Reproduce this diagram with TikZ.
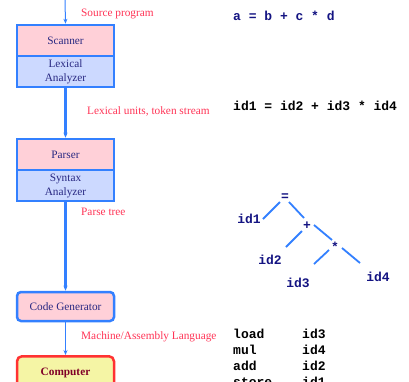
\documentclass[tikz,border=0pt]{standalone}
\usepackage{fontspec}
\setmainfont{Liberation Serif}
\setmonofont{Liberation Mono}
\usetikzlibrary{arrows.meta}
\definecolor{bblue}{RGB}{51,128,255}
\definecolor{pinkf}{RGB}{255,208,216}
\definecolor{bluef}{RGB}{204,217,255}
\definecolor{redt}{RGB}{255,51,85}
\definecolor{boxt}{RGB}{40,40,130}
\definecolor{navy}{RGB}{20,20,130}
\definecolor{yell}{RGB}{245,245,165}
\definecolor{redb}{RGB}{255,50,50}
\definecolor{darkred}{RGB}{128,0,40}
\tikzset{
  half/.style={draw=bblue, line width=2.5pt, minimum width=97pt, inner sep=0pt, align=center, font=\fontsize{11.3}{14}\selectfont, text=boxt},
  lbl/.style={anchor=west, text=redt, font=\fontsize{11.3}{12}\selectfont, inner sep=0pt},
  code/.style={anchor=west, inner sep=0pt, font=\fontsize{13}{13}\ttfamily\bfseries},
  tree/.style={inner sep=0pt, text=navy, font=\fontsize{13}{13}\ttfamily\bfseries},
  thick arrow/.style={draw=bblue, line width=2.2pt, -{Stealth[length=5pt,width=4pt]}},
  thin arrow/.style={draw=bblue, line width=1pt, -{Stealth[length=5pt,width=4pt]}},
  branch/.style={draw=bblue, line width=1.8pt},
}
\begin{document}
\begin{tikzpicture}[x=1pt,y=-1pt]
\useasboundingbox (0,0) rectangle (409,381);
% scanner
\node[half, fill=pinkf, minimum height=31pt] (scan) at (65.5,40.5) {Scanner};
\node[half, fill=bluef, minimum height=31pt] (lex) at (65.5,71.5) {Lexical\\Analyzer};
% parser
\node[half, fill=pinkf, minimum height=31pt] (pars) at (65.5,154.5) {Parser};
\node[half, fill=bluef, minimum height=31pt] (syn) at (65.5,185.5) {Syntax\\Analyzer};
% code gen
\node[half, fill=pinkf, minimum height=29pt, rounded corners=4pt] (cg) at (65.5,306.5) {Code Generator};
% computer
\node[draw=redb, line width=2.5pt, fill=yell, rounded corners=5pt, minimum width=97pt, minimum height=34pt, inner sep=0pt, text=darkred, font=\fontsize{11.3}{12}\selectfont\bfseries, anchor=north] (comp) at (65.5,355) {\raisebox{-7pt}{Computer}};
\coordinate (src) at (65,0);
\draw[thin arrow] (src) -- (scan.north);
\draw[thick arrow] (lex.south) -- (pars.north);
\draw[thick arrow] (syn.south) -- (cg.north);
\draw[thin arrow] (cg.south) -- (comp.north);
% labels
\node[lbl] (l1) at (81,14) {Source program};
\node[lbl] (l2) at (87,111) {Lexical units, token stream};
\node[lbl] (l3) at (81,212) {Parse tree};
\node[lbl] (l4) at (81,337) {Machine/Assembly Language};
% right side
\node[code, text=navy] (src1) at (233,16) {a = b + c * d};
\node[code] (tok) at (233,106) {id1 = id2 + id3 * id4};
% tree
\node[tree] (eq) at (285,197) {=};
\node[tree] (id1) at (249,219) {id1};
\node[tree] (plus) at (307,226) {+};
\node[tree] (id2) at (270,260) {id2};
\node[tree] (star) at (335,247) {*};
\node[tree] (id3) at (298,283) {id3};
\node[tree] (id4) at (378,277) {id4};
\coordinate (a1) at (280,202); \coordinate (a2) at (263,219);
\coordinate (b1) at (289,202); \coordinate (b2) at (304,218);
\coordinate (c1) at (302,231); \coordinate (c2) at (286,247);
\coordinate (d1) at (314,225); \coordinate (d2) at (332,240);
\coordinate (e1) at (329,250); \coordinate (e2) at (314,264);
\coordinate (f1) at (342,248); \coordinate (f2) at (360,263);
\draw[branch] (a1) -- (a2);
\draw[branch] (b1) -- (b2);
\draw[branch] (c1) -- (c2);
\draw[branch] (d1) -- (d2);
\draw[branch] (e1) -- (e2);
\draw[branch] (f1) -- (f2);
% code
\node[code] (c1l) at (233,334) {load};
\node[code] (c1r) at (302,334) {id3};
\node[code] (c2l) at (233,350) {mul};
\node[code] (c2r) at (302,350) {id4};
\node[code] (c3l) at (233,366) {add};
\node[code] (c3r) at (302,366) {id2};
\node[code] (c4l) at (233,382) {store};
\node[code] (c4r) at (302,382) {id1};
\end{tikzpicture}
\end{document}
